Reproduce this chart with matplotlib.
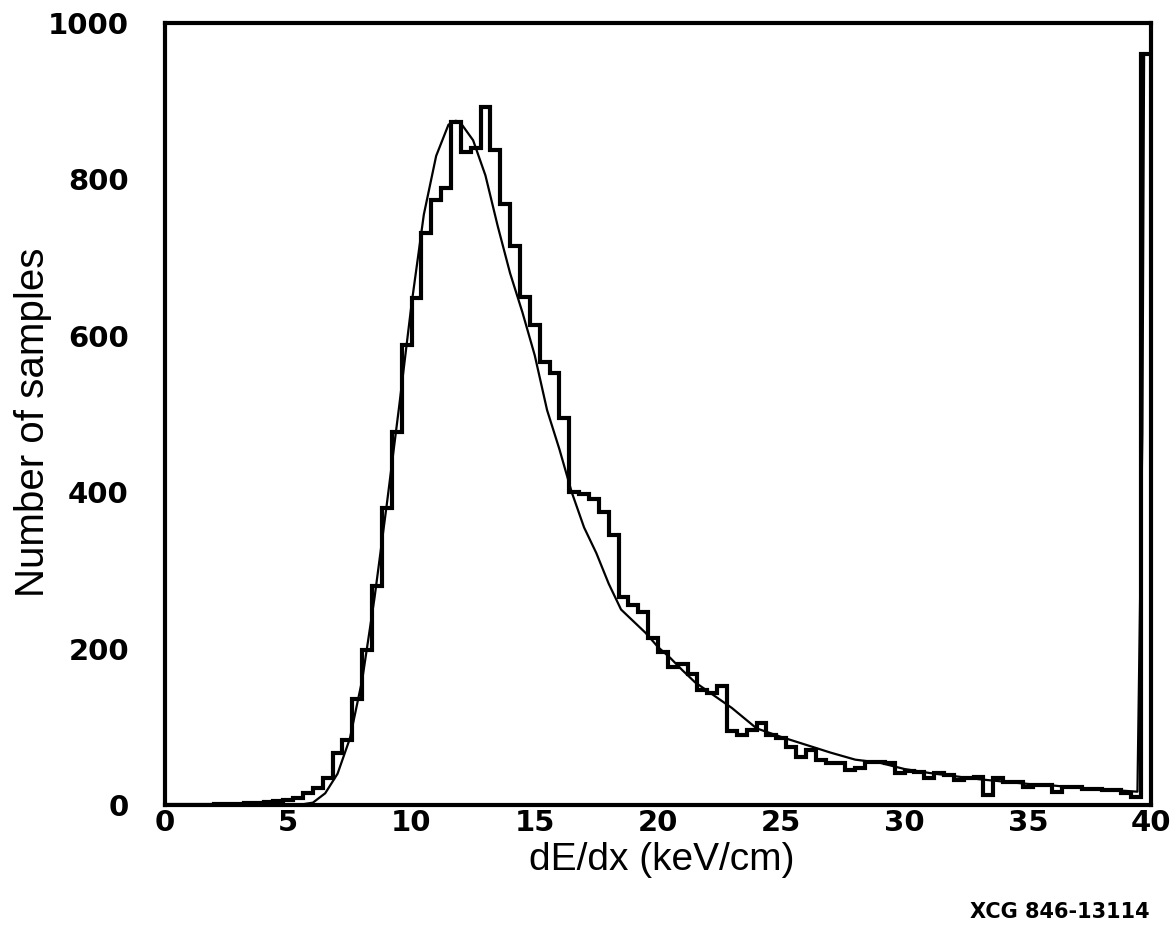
import numpy as np
import matplotlib
matplotlib.use("Agg")
import matplotlib.pyplot as plt

# ---- data ----
bin_lo = 0.0
bin_hi = 40.0

counts_low = [0, 0, 0, 0, 0, 1, 1, 1, 2, 3,           # 0.0 - 4.0
              4, 5, 7, 9, 15, 22, 35, 66, 83, 135,     # 4.0 - 8.0
              198, 280, 380, 477, 588, 648, 731, 774, 789, 873,   # 8.0 - 12.0
              835, 840, 893, 838, 768, 715, 650, 614, 566, 553,   # 12.0 - 16.0
              495, 400, 398, 391, 375, 345, 266, 256, 247, 213,   # 16.0 - 20.0
              196, 177, 180, 168, 147, 143, 152, 94, 90, 96,      # 20.0 - 24.0
              105]                                                # 24.0 - 24.4
counts_tail = [90, 86, 74, 61, 70, 57, 54, 54, 45, 47,
               55, 55, 54, 41, 43, 42, 35, 41, 38, 32,
               34, 36, 13, 35, 30, 30, 23, 25, 25, 16,
               23, 23, 21, 21, 19, 19, 15, 10]
counts_overflow = [960]

fit_x = [0, 4, 5, 5.5, 6, 6.5, 7, 7.5, 8, 8.5, 9, 9.5, 10, 10.5, 11, 11.5,
         11.8, 12, 12.5, 13, 13.5, 14, 14.5, 15, 15.5, 16, 16.5, 17, 17.5, 18,
         18.5, 19, 19.5, 20, 20.5, 21, 21.5, 22, 23, 24, 25, 26, 27, 28, 29, 30,
         31, 32, 33, 34, 35, 36, 37, 38, 39, 39.45, 39.65, 39.72]
fit_y = [0, 0, 0, 0.5, 3, 15, 40, 85, 160, 265, 385, 510, 640, 755, 830, 870,
         875, 872, 850, 805, 740, 680, 630, 575, 505, 455, 400, 355, 322, 283,
         250, 235, 220, 202, 188, 172, 157, 146, 124, 98, 87, 77, 67, 58, 54, 46,
         41, 37, 33, 30, 27, 25, 22, 20, 18, 17, 475, 960]

x_ticks = [0, 5, 10, 15, 20, 25, 30, 35, 40]
y_ticks = [0, 200, 400, 600, 800, 1000]
x_label = "dE/dx (keV/cm)"
y_label = "Number of samples"
stamp = "XCG 846-13114"

# ---- figure ----
W, H = 1176, 927
fig = plt.figure(figsize=(W / 100, H / 100), dpi=100)
ax = fig.add_axes([165 / W, 1 - 805 / H, (1151 - 165) / W, (805 - 23) / H])

counts = np.array(counts_low + counts_tail + counts_overflow, dtype=float)
edges = np.linspace(bin_lo, bin_hi, len(counts) + 1)
ax.stairs(counts, edges, color="black", linewidth=3.0, baseline=None)
ax.plot(fit_x, fit_y, color="black", linewidth=1.6)

ax.set_xlim(0, 40)
ax.set_ylim(0, 1000)
ax.set_xticks(x_ticks)
ax.set_yticks(y_ticks)
tick_font = dict(family="DejaVu Sans", weight="bold", size=21)
ax.set_xticklabels([str(t) for t in x_ticks], fontdict=tick_font)
ax.set_yticklabels([str(t) for t in y_ticks], fontdict=tick_font)
ax.tick_params(axis="both", length=0)
ax.tick_params(axis="x", pad=3)
ax.tick_params(axis="y", pad=26)

for s in ax.spines.values():
    s.set_linewidth(3.0)

ax.set_xlabel(x_label, family="Liberation Sans", size=28)
ax.xaxis.set_label_coords((662 - 165) / 986, (805 - 842) / 782)
ax.set_ylabel(y_label, family="Liberation Sans", size=29)
ax.yaxis.set_label_coords((52 - 165) / 986, (805 - 422) / 782)

fig.text(1150 / W, 1 - 912 / H, stamp, ha="right", va="center",
         family="DejaVu Sans", weight="bold", size=15)

fig.savefig("out.png", dpi=100)
